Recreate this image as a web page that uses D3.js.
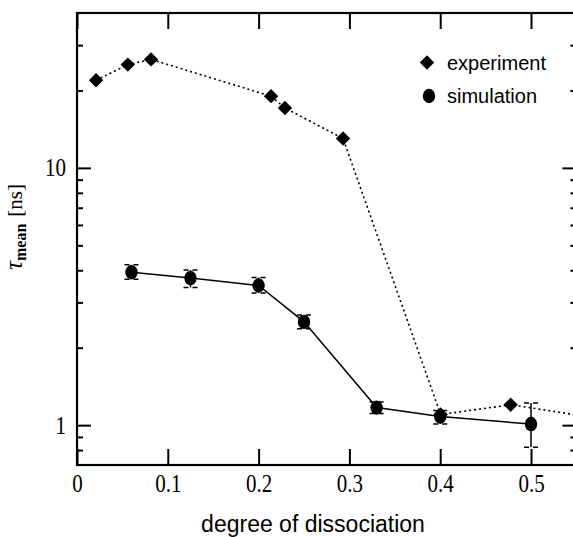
<!DOCTYPE html>
<html>
<head>
<meta charset="utf-8">
<script src="https://cdn.jsdelivr.net/npm/d3@7"></script>
<style>
  html, body { margin: 0; padding: 0; background: #fff; }
  svg { display: block; }
</style>
</head>
<body>
<svg id="chart" width="573" height="537"></svg>
<script>
// ---- data ----
const expX = [0.021, 0.056, 0.0815, 0.2137, 0.229, 0.293, 0.4005, 0.4776, 0.6];
const expY = [21.9, 25.2, 26.4, 19.0, 17.1, 13.0, 1.10, 1.20, 1.03];

const simX = [0.06, 0.125, 0.2, 0.25, 0.33, 0.4, 0.5];
const simY = [3.93, 3.73, 3.49, 2.52, 1.17, 1.08, 1.01];
const simLo = [3.69, 3.43, 3.26, 2.37, 1.11, 1.01, 0.82];
const simHi = [4.20, 4.01, 3.75, 2.68, 1.23, 1.14, 1.22];

const xTicks = [0, 0.1, 0.2, 0.3, 0.4, 0.5];
const yMajor = [1, 10];
const yMinor = [0.8, 0.9, 2, 3, 4, 5, 6, 7, 8, 9, 20, 30];
const legendLabels = ["experiment", "simulation"];

// ---- layout ----
const svg = d3.select("#chart");
const L = 77, R = 576.4, T = 13, B = 465;
const x = d3.scaleLinear().domain([0, 0.55]).range([L, R]);
const y = d3.scaleLog().domain([0.7, 40]).range([B, T]);

const serif = "'Liberation Serif', 'DejaVu Serif', serif";
const sans = "'Liberation Sans', Arial, Helvetica, sans-serif";

svg.append("defs").append("clipPath").attr("id", "clip")
  .append("rect").attr("x", L).attr("y", T).attr("width", R - L).attr("height", B - T);

// axes with inward ticks
function styleAxis(g) {
  g.select(".domain").remove();
  g.selectAll(".tick line").attr("stroke", "#000").attr("stroke-width", 2);
}
const fmtX = d => d === 0 ? "0" : d3.format(".1f")(d);

// bottom
const gb = svg.append("g").attr("transform", `translate(0,${B})`)
  .call(d3.axisBottom(x).tickValues(xTicks).tickSize(-16).tickFormat(fmtX));
styleAxis(gb);
gb.selectAll(".tick text")
  .attr("font-family", serif).attr("font-size", 21).attr("fill", "#000")
  .attr("dy", null).attr("y", 0)
  .attr("transform", "translate(0,27) scale(1,1.22)");

// top
const gt = svg.append("g").attr("transform", `translate(0,${T})`)
  .call(d3.axisTop(x).tickValues(xTicks).tickSize(-16).tickFormat(""));
styleAxis(gt);

// left major
const gl = svg.append("g").attr("transform", `translate(${L},0)`)
  .call(d3.axisLeft(y).tickValues(yMajor).tickSize(-14).tickFormat(d3.format("d")));
styleAxis(gl);
gl.selectAll(".tick text")
  .attr("font-family", serif).attr("font-size", 21).attr("fill", "#000")
  .attr("dy", null).attr("x", 0).attr("y", 0)
  .attr("text-anchor", "end")
  .attr("transform", "translate(-11,8) scale(1,1.22)");
// left minor
const glm = svg.append("g").attr("transform", `translate(${L},0)`)
  .call(d3.axisLeft(y).tickValues(yMinor).tickSize(-6).tickFormat(""));
styleAxis(glm);

// right major + minor
const gr = svg.append("g").attr("transform", `translate(${R},0)`)
  .call(d3.axisRight(y).tickValues(yMajor).tickSize(-14).tickFormat(""));
styleAxis(gr);
const grm = svg.append("g").attr("transform", `translate(${R},0)`)
  .call(d3.axisRight(y).tickValues(yMinor).tickSize(-6).tickFormat(""));
styleAxis(grm);

// frame
svg.append("rect").attr("x", L).attr("y", T).attr("width", R - L).attr("height", B - T)
  .attr("fill", "none").attr("stroke", "#000").attr("stroke-width", 2.2);

const plot = svg.append("g").attr("clip-path", "url(#clip)");

// experiment line (dotted)
const expData = expX.map((v, i) => ({ x: v, y: expY[i] }));
plot.append("path").datum(expData)
  .attr("fill", "none").attr("stroke", "#000").attr("stroke-width", 1.6)
  .attr("stroke-dasharray", "2,3")
  .attr("d", d3.line().x(d => x(d.x)).y(d => y(d.y)));

// simulation line (solid)
const simData = simX.map((v, i) => ({ x: v, y: simY[i], lo: simLo[i], hi: simHi[i] }));
plot.append("path").datum(simData)
  .attr("fill", "none").attr("stroke", "#000").attr("stroke-width", 1.5)
  .attr("d", d3.line().x(d => x(d.x)).y(d => y(d.y)));

// error bars
const eb = plot.append("g").selectAll("g").data(simData).join("g");
eb.append("line")
  .attr("x1", d => x(d.x)).attr("x2", d => x(d.x))
  .attr("y1", d => y(d.hi)).attr("y2", d => y(d.lo))
  .attr("stroke", "#000").attr("stroke-width", 1.5);
["hi", "lo"].forEach(k => {
  eb.append("line")
    .attr("x1", d => x(d.x) - 7).attr("x2", d => x(d.x) + 7)
    .attr("y1", d => y(d[k])).attr("y2", d => y(d[k]))
    .attr("stroke", "#000").attr("stroke-width", 1.5)
    .attr("stroke-dasharray", "5,4,5");
});

// markers
const diamond = (cx, cy, s) => `M${cx},${cy - s}L${cx + s},${cy}L${cx},${cy + s}L${cx - s},${cy}Z`;
plot.append("g").selectAll("path").data(expData).join("path")
  .attr("d", d => diamond(x(d.x), y(d.y), 7.2)).attr("fill", "#000");
plot.append("g").selectAll("ellipse").data(simData).join("ellipse")
  .attr("cx", d => x(d.x)).attr("cy", d => y(d.y))
  .attr("rx", 6.2).attr("ry", 7.2).attr("fill", "#000");

// legend
const lg = svg.append("g");
lg.append("path").attr("d", diamond(427, 62.5, 7.2)).attr("fill", "#000");
lg.append("ellipse").attr("cx", 429).attr("cy", 96).attr("rx", 6.2).attr("ry", 7.2).attr("fill", "#000");
lg.selectAll("text").data(legendLabels).join("text")
  .attr("x", 447).attr("y", (d, i) => 69.5 + i * 33.5)
  .attr("font-family", sans).attr("font-size", 20).attr("fill", "#000")
  .text(d => d);

// x label
svg.append("text").attr("x", 313).attr("y", 532).attr("text-anchor", "middle")
  .attr("font-family", sans).attr("font-size", 23).attr("fill", "#000")
  .text("degree of dissociation");

// y label
const yl = svg.append("text").attr("transform", "translate(22,227) rotate(-90)")
  .attr("text-anchor", "middle").attr("font-family", serif).attr("fill", "#000");
yl.append("tspan").attr("font-style", "italic").attr("font-size", 25).text("τ");
yl.append("tspan").attr("font-weight", "bold").attr("font-size", 16).attr("dy", 4).text("mean");
yl.append("tspan").attr("font-size", 21).attr("dy", -4).attr("dx", 7).text("[ns]");
</script>
</body>
</html>
